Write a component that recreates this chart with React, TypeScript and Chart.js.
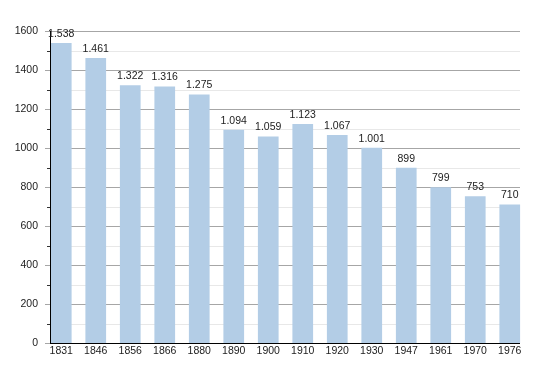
import React, { useEffect, useRef } from "react";
import { Chart, registerables } from "chart.js";

Chart.register(...registerables);

const years = ["1831", "1846", "1856", "1866", "1880", "1890", "1900", "1910", "1920", "1930", "1947", "1961", "1970", "1976"];
const population = [1538, 1461, 1322, 1316, 1275, 1094, 1059, 1123, 1067, 1001, 899, 799, 753, 710];
const yMax = 1600;
const yStep = 100;

const FONT = "'Liberation Sans', Arial, sans-serif";
const FSIZE = 10.5;

function fmt(v: number): string {
  const s = String(v);
  return s.length > 3 ? s.slice(0, s.length - 3) + "." + s.slice(s.length - 3) : s;
}

const gridPlugin = {
  id: "customGrid",
  beforeDatasetsDraw(chart: any) {
    const ctx = chart.ctx;
    const y = chart.scales.y;
    const x0 = 50;
    const x1 = 520;
    ctx.save();
    for (let v = 0; v <= yMax; v += yStep) {
      const py = Math.round(y.getPixelForValue(v)) + 0.5;
      const major = v % 200 === 0;
      ctx.strokeStyle = major ? "#a6a6a6" : "#e8e8e8";
      ctx.lineWidth = 1;
      ctx.beginPath();
      ctx.moveTo(major ? x0 - 5 : x0, py);
      ctx.lineTo(x1, py);
      ctx.stroke();
      if (!major) {
        ctx.strokeStyle = "#333";
        ctx.beginPath();
        ctx.moveTo(x0 - 3, py);
        ctx.lineTo(x0, py);
        ctx.stroke();
      }
    }
    ctx.restore();
  },
  afterDatasetsDraw(chart: any) {
    const ctx = chart.ctx;
    const y = chart.scales.y;
    const x0 = 50.5;
    const x1 = 520;
    const top = Math.round(y.getPixelForValue(yMax));
    const bottom = Math.round(y.getPixelForValue(0)) + 0.5;
    ctx.save();
    ctx.strokeStyle = "#000";
    ctx.lineWidth = 1;
    ctx.beginPath();
    ctx.moveTo(x0, top);
    ctx.lineTo(x0, bottom);
    ctx.moveTo(x0 - 0.5, bottom);
    ctx.lineTo(x1, bottom);
    ctx.stroke();
    const meta = chart.getDatasetMeta(0);
    ctx.fillStyle = "#222";
    ctx.font = FSIZE + "px " + FONT;
    ctx.textAlign = "center";
    ctx.textBaseline = "middle";
    meta.data.forEach((bar: any, i: number) => {
      ctx.fillText(fmt(population[i]), bar.x, bar.y - 9);
    });
    ctx.restore();
  },
};

export default function App() {
  const ref = useRef<HTMLCanvasElement>(null);
  useEffect(() => {
    if (!ref.current) return;
    const chart = new Chart(ref.current, {
      type: "bar",
      data: {
        labels: years,
        datasets: [
          {
            data: population,
            backgroundColor: "#b3cde6",
            borderWidth: 0,
            barPercentage: 0.6,
            categoryPercentage: 1,
          },
        ],
      },
      options: {
        animation: false,
        responsive: false,
        maintainAspectRatio: false,
        layout: { padding: { top: 31, right: 23, bottom: 0, left: 0 } },
        plugins: { legend: { display: false }, tooltip: { enabled: false } },
        scales: {
          x: {
            grid: { display: false, drawTicks: false, tickLength: 0 },
            border: { display: false },
            ticks: {
              color: "#222",
              font: { family: FONT, size: FSIZE },
              padding: 2,
              maxRotation: 0,
              autoSkip: false,
            },
            afterFit: (s: any) => {
              s.height = 30;
            },
          },
          y: {
            min: 0,
            max: yMax,
            grid: { display: false, drawTicks: false, tickLength: 0 },
            border: { display: false },
            ticks: {
              stepSize: yStep,
              color: "#222",
              font: { family: FONT, size: FSIZE },
              padding: 6,
              autoSkip: false,
              callback: (v: any) => (Number(v) % 200 === 0 ? String(v) : ""),
            },
            afterFit: (s: any) => {
              s.width = 44;
            },
          },
        },
      },
      plugins: [gridPlugin],
    });
    return () => chart.destroy();
  }, []);
  return (
    <div style={{ position: "absolute", left: 0, top: 0, width: 550, height: 373, background: "#fff" }}>
      <canvas ref={ref} width={550} height={373} style={{ width: 550, height: 373, display: "block" }} />
    </div>
  );
}
